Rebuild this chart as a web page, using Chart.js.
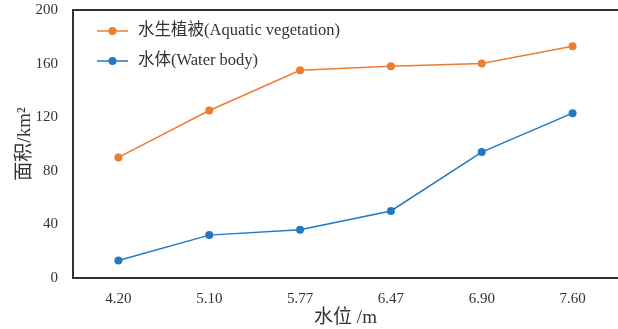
<!DOCTYPE html>
<html>
<head>
<meta charset="utf-8">
<script src="https://cdn.jsdelivr.net/npm/chart.js@4/dist/chart.umd.min.js"></script>
<style>
  html, body { margin: 0; padding: 0; background: #fff; }
  #wrap { width: 618px; height: 329px; }
</style>
</head>
<body>
<div id="wrap"><canvas id="chart"></canvas></div>
<script>
const waterLevels = ['4.20', '5.10', '5.77', '6.47', '6.90', '7.60'];
const vegetation = [90, 125, 155, 158, 160, 173];
const waterBody = [13, 32, 36, 50, 94, 123];
const yTicks = [0, 40, 80, 120, 160, 200];
const seriesNames = ['水生植被(Aquatic vegetation)', '水体(Water body)'];

const orange = '#ed7d31';
const blue = '#2179c4';
const serif = "'Liberation Serif', 'Noto Sans CJK SC', serif";

// top frame line + legend drawn inside the plot
const framePlugin = {
    id: 'frame',
    afterDraw(chart) {
        const ctx = chart.ctx;
        const area = chart.chartArea;
        ctx.save();
        ctx.strokeStyle = '#333';
        ctx.lineWidth = 2;
        ctx.beginPath();
        ctx.moveTo(area.left - 1, area.top);
        ctx.lineTo(area.right, area.top);
        ctx.stroke();

        const colors = [orange, blue];
        ctx.font = '16.5px ' + serif;
        ctx.textBaseline = 'middle';
        colors.forEach(function(c, i) {
            const y = area.top + 21 + i * 30;
            const x0 = area.left + 24;
            ctx.strokeStyle = c;
            ctx.lineWidth = 1.5;
            ctx.beginPath();
            ctx.moveTo(x0, y);
            ctx.lineTo(x0 + 31, y);
            ctx.stroke();
            ctx.fillStyle = c;
            ctx.beginPath();
            ctx.arc(x0 + 15.5, y, 4, 0, Math.PI * 2);
            ctx.fill();
            ctx.fillStyle = '#333';
            ctx.fillText(seriesNames[i], x0 + 41, y);
        });
        ctx.restore();
    }
};

const ctx = document.getElementById('chart').getContext('2d');

new Chart(ctx, {
    type: 'line',
    data: {
        labels: waterLevels,
        datasets: [{
            label: seriesNames[0],
            data: vegetation,
            borderColor: orange,
            backgroundColor: orange,
            pointBackgroundColor: orange,
            pointBorderWidth: 0,
            pointRadius: 4,
            borderWidth: 1.5,
            tension: 0
        }, {
            label: seriesNames[1],
            data: waterBody,
            borderColor: blue,
            backgroundColor: blue,
            pointBackgroundColor: blue,
            pointBorderWidth: 0,
            pointRadius: 4,
            borderWidth: 1.5,
            tension: 0
        }]
    },
    options: {
        responsive: true,
        maintainAspectRatio: false,
        animation: false,
        layout: {
            autoPadding: false,
            padding: { top: 10, left: 0, right: 0, bottom: 0 }
        },
        scales: {
            x: {
                offset: true,
                grid: { display: false, drawTicks: false },
                border: { display: true, color: '#333', width: 2 },
                ticks: {
                    padding: 12,
                    color: '#333',
                    font: { family: serif, size: 15 }
                },
                title: {
                    display: true,
                    text: '水位 /m',
                    color: '#333',
                    padding: { top: 0, bottom: 0 },
                    font: { family: serif, size: 19 }
                },
                afterFit: function(scale) {
                    scale.height = 51;
                    scale.paddingLeft = 0;
                    scale.paddingRight = 0;
                }
            },
            y: {
                min: 0,
                max: 200,
                afterBuildTicks: function(scale) {
                    scale.ticks = yTicks.map(function(v) { return { value: v }; });
                },
                grid: { display: false, drawTicks: false },
                border: { display: true, color: '#333', width: 2 },
                ticks: {
                    padding: 15,
                    color: '#333',
                    font: { family: serif, size: 15 }
                },
                title: {
                    display: true,
                    text: '面积/km²',
                    color: '#333',
                    padding: { top: 14, bottom: 0 },
                    font: { family: serif, size: 19 }
                },
                afterFit: function(scale) {
                    scale.width = 73;
                    scale.paddingTop = 0;
                    scale.paddingBottom = 0;
                }
            }
        },
        plugins: {
            legend: { display: false },
            tooltip: { enabled: false }
        }
    },
    plugins: [framePlugin]
});
</script>
</body>
</html>
